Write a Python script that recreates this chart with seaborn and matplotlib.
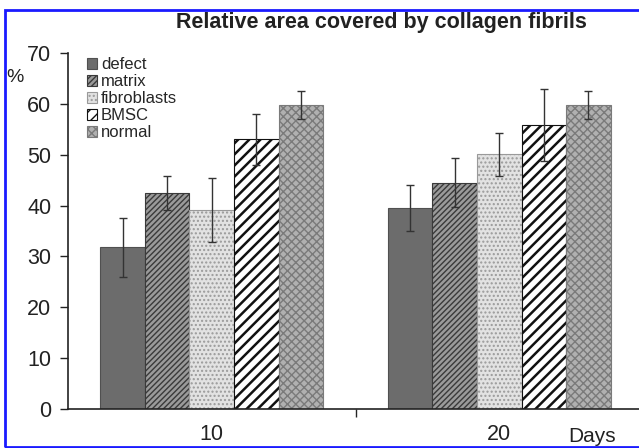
import matplotlib
matplotlib.use("Agg")
import matplotlib.pyplot as plt
from matplotlib.patches import Rectangle
import seaborn as sns
import pandas as pd

days = ["10", "20"]
groups = ["defect", "matrix", "fibroblasts", "BMSC", "normal"]
means_d10 = [31.8, 42.5, 39.1, 53.0, 59.8]
means_d20 = [39.5, 44.5, 50.1, 55.8, 59.8]
err_d10 = [5.8, 3.3, 6.3, 5.0, 2.7]
err_d20 = [4.5, 4.8, 4.2, 7.1, 2.7]

df = pd.DataFrame({
    "day": days[0:1] * 5 + days[1:2] * 5,
    "group": groups + groups,
    "value": means_d10 + means_d20,
    "err": err_d10 + err_d20,
})

sns.set_style("white")
plt.rcParams["font.family"] = ["Liberation Sans", "DejaVu Sans"]

fig = plt.figure(figsize=(6.39, 4.48), dpi=100)
ax = fig.add_axes([68 / 639, 1 - 409 / 448, 575 / 639, (409 - 53) / 448])

sns.barplot(data=df, x="day", y="value", hue="group", order=days, hue_order=groups,
            errorbar=None, width=0.775, ax=ax, legend=False)

styles = {
    "defect": dict(fc="#6c6c6c", ec="#505050", hatch=None),
    "matrix": dict(fc="#9a9a9a", ec="#3a3a3a", hatch="//////"),
    "fibroblasts": dict(fc="#e2e2e2", ec="#9a9a9a", hatch="...."),
    "BMSC": dict(fc="#ffffff", ec="#111111", hatch="///"),
    "normal": dict(fc="#b0b0b0", ec="#7a7a7a", hatch="xxxx"),
}

for g, cont in zip(groups, ax.containers):
    st = styles[g]
    for p in cont.patches:
        p.set_facecolor(st["fc"])
        p.set_edgecolor(st["ec"])
        p.set_linewidth(0.8)
        if st["hatch"]:
            p.set_hatch(st["hatch"])
        if g == "BMSC" and hasattr(p, "set_hatch_linewidth"):
            p.set_hatch_linewidth(1.8)

# error bars from bar positions
sub = df.set_index(["group", "day"])
for g, cont in zip(groups, ax.containers):
    for d, p in zip(days, cont.patches):
        xc = p.get_x() + p.get_width() / 2
        row = sub.loc[(g, d)]
        ax.errorbar(xc, row["value"], yerr=row["err"], fmt="none", ecolor="#333333",
                    elinewidth=1.0, capsize=3, capthick=1.0, zorder=5)

ax.set_xlim(-0.5, 1.5)
ax.set_ylim(0, 70)
ax.set_yticks(range(0, 71, 10))
ax.tick_params(axis="y", which="major", direction="out", length=6, width=1,
               labelsize=15.5, colors="#222222", left=True, pad=6)
ax.set_xticks([0, 1])
ax.set_xticklabels(days)
ax.tick_params(axis="x", which="major", length=0, pad=11, labelsize=15.5, labelcolor="#222222")
ax.set_xticks([0.5], minor=True)
ax.tick_params(axis="x", which="minor", direction="out", length=6, width=1, bottom=True)
ax.set_xlabel("")
ax.set_ylabel("")

for s in ["top", "right"]:
    ax.spines[s].set_visible(False)
for s in ["left", "bottom"]:
    ax.spines[s].set_color("#222222")
    ax.spines[s].set_linewidth(1.2)

# legend
handles = [Rectangle((0, 0), 1, 1, facecolor=styles[g]["fc"], edgecolor=styles[g]["ec"],
                     hatch=styles[g]["hatch"], linewidth=0.8) for g in groups]
ax.legend(handles, groups, loc="upper left", bbox_to_anchor=(12 / 575, 1.007),
          frameon=False, fontsize=12, handlelength=0.6, handleheight=0.6,
          handletextpad=0.25, labelspacing=0.12, borderaxespad=0)

fig.text(381 / 639, 1 - 28 / 448, "Relative area covered by collagen fibrils",
         ha="center", va="baseline", fontsize=15.5, fontweight="bold", color="#222222")
fig.text(6 / 639, 1 - 78 / 448, "%", ha="left", va="center", fontsize=14, color="#222222")
fig.text(592 / 639, 1 - 436 / 448, "Days", ha="center", va="center", fontsize=15, color="#222222")

fig.patches.append(Rectangle((5 / 639, 1 / 448), 1.0, 1 - 11 / 448, transform=fig.transFigure,
                             fill=False, edgecolor="#1a1aff", linewidth=2.0, figure=fig))

fig.savefig("out.png", dpi=100)
